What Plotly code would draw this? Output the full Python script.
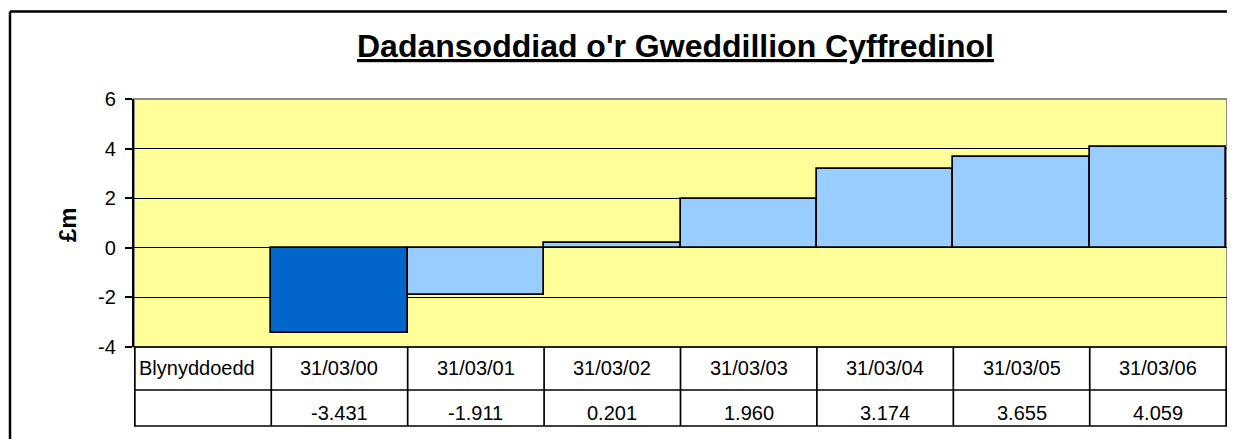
import plotly.graph_objects as go

# ---------------- data ----------------
header = "Blynyddoedd"
years = ["31/03/00", "31/03/01", "31/03/02", "31/03/03", "31/03/04", "31/03/05", "31/03/06"]
balances = [-3.431, -1.911, 0.201, 1.960, 3.174, 3.655, 4.059]
bar_colours = ["#0066CC"] + ["#99CCFF"] * 6
y_ticks = [-4, -2, 0, 2, 4, 6]
y_tick_text = ["-4", "-2", "0", "2", "4", "6"]

W, H = 1235, 439
OFF = 8  # the page body margin shifts the figure by 8px
L, R, T, B = 126, 16, 91, 100
PW, PH = W - L - R, H - T - B

def px_x(p):  # reference pixel -> paper x
    return (p - OFF - L) / PW

def px_y(p):  # reference pixel -> paper y
    return (H - B - (p - OFF)) / PH

FONT = "Liberation Sans, Arial, sans-serif"
cats = [header] + years

fig = go.Figure()
fig.add_trace(go.Bar(x=cats, y=[None] + balances,
                     marker=dict(color=["#99CCFF"] + bar_colours, line=dict(color="black", width=1.7)),
                     hoverinfo="x+y", showlegend=False))

shapes = []
# outer chart frame (only top and left edges are in view)
shapes.append(dict(type="line", xref="paper", yref="paper", x0=px_x(10), x1=px_x(1300),
                   y0=px_y(11.5), y1=px_y(11.5), line=dict(color="black", width=2.5)))
shapes.append(dict(type="line", xref="paper", yref="paper", x0=px_x(10), x1=px_x(10),
                   y0=px_y(11.5), y1=px_y(500), line=dict(color="black", width=2.5)))
# plot frame (grey top/right)
shapes.append(dict(type="rect", xref="paper", yref="paper", x0=0, x1=1, y0=0, y1=1,
                   line=dict(color="#8c8c8c", width=2), layer="below"))
# data table grid
row1, row2 = px_y(390), px_y(426)
for yy in [0, row1, row2]:
    shapes.append(dict(type="line", xref="paper", yref="paper", x0=0, x1=1, y0=yy, y1=yy,
                       line=dict(color="black", width=1.7)))
for i in range(len(cats) + 1):
    shapes.append(dict(type="line", xref="x", yref="paper", x0=i - 0.5, x1=i - 0.5, y0=0, y1=row2,
                       line=dict(color="black", width=1.7)))

annotations = []
fnt = dict(family=FONT, size=20, color="black")
annotations.append(dict(text=header, xref="paper", yref="paper", x=px_x(137), y=px_y(368),
                        xanchor="left", yanchor="middle", showarrow=False, font=fnt))
for yr, v in zip(years, balances):
    annotations.append(dict(text=yr, xref="x", yref="paper", x=yr, y=px_y(368),
                            xanchor="center", yanchor="middle", showarrow=False, font=fnt))
    annotations.append(dict(text=f"{v:.3f}", xref="x", yref="paper", x=yr, y=px_y(413),
                            xanchor="center", yanchor="middle", showarrow=False, font=fnt))
annotations.append(dict(text="<b>£m</b>", xref="paper", yref="paper", x=px_x(67), y=px_y(225),
                        textangle=-90, xanchor="center", yanchor="middle", showarrow=False,
                        font=dict(family=FONT, size=24, color="black")))
annotations.append(dict(text="<b><u>Dadansoddiad o'r Gweddillion Cyffredinol</u></b>",
                        xref="paper", yref="paper", x=px_x(675), y=px_y(46),
                        xanchor="center", yanchor="middle", showarrow=False,
                        font=dict(family=FONT, size=32, color="black")))

fig.update_layout(
    width=W, height=H,
    margin=dict(l=L, r=R, t=T, b=B),
    paper_bgcolor="white", plot_bgcolor="#FFFF99",
    bargap=0,
    xaxis=dict(showticklabels=False, showgrid=False, zeroline=False, ticks="", fixedrange=True),
    yaxis=dict(range=[-4, 6], tickvals=y_ticks, ticktext=y_tick_text,
               showgrid=True, gridcolor="black", gridwidth=1.2,
               zeroline=True, zerolinecolor="black", zerolinewidth=1.2,
               showline=True, linecolor="black", linewidth=2.2,
               ticks="outside", ticklen=7, tickcolor="black", tickwidth=1.5,
               ticklabelstandoff=5, tickfont=fnt, fixedrange=True),
    shapes=shapes, annotations=annotations,
)

fig.write_html("out.html", config={"displayModeBar": False})
